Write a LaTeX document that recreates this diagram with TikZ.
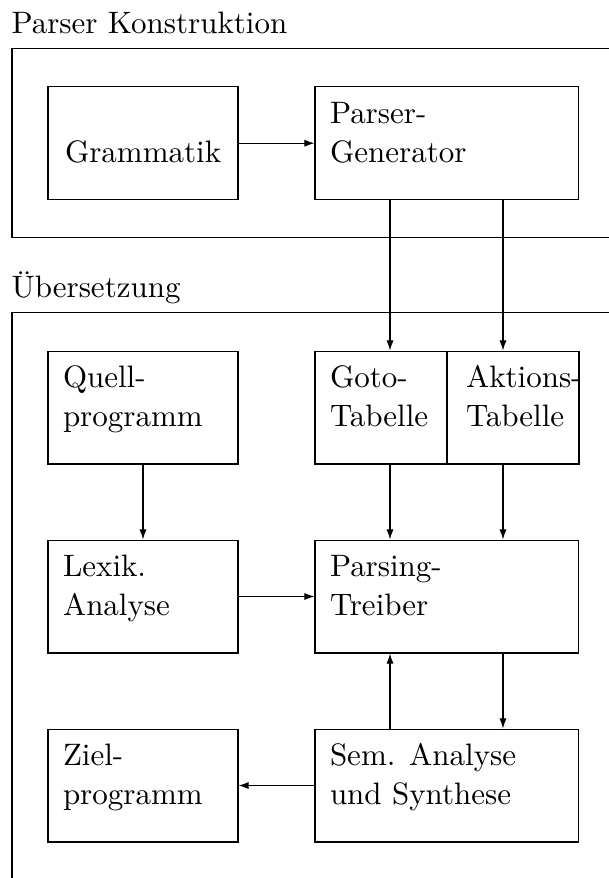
\documentclass[tikz,border=0pt]{standalone}
\usetikzlibrary{arrows.meta,calc}
\begin{document}
\begin{tikzpicture}[x=0.3226pt,y=-0.3226pt,
  line width=0.33pt,
  frame/.style={draw},
  boxs/.style={draw,rectangle,inner sep=0pt,minimum height=36.45pt},
  wbox/.style={boxs,minimum width=61.29pt},
  lbox/.style={boxs,minimum width=85.16pt},
  hbox/.style={boxs,minimum width=42.58pt},
  txt/.style={anchor=base west,inner sep=0pt,align=left,font=\fontsize{10}{12.6}\selectfont},
  ttl/.style={anchor=base west,inner sep=0pt,font=\fontsize{10}{12.6}\selectfont},
  arr/.style={-{Latex[length=3.3pt,width=2.3pt]}}]
\useasboundingbox (0,0) rectangle (609,878);
\clip (0,0) rectangle (609,878);
% titles
\node[ttl] (t1) at (11,33.3) {Parser Konstruktion};
\node[ttl] (t2) at (11,297.7) {Übersetzung};
% frames
\draw[frame] (640,48.7) -- (12,48.7) -- (12,237.5) -- (640,237.5);
\draw[frame] (640,312) -- (12,312) -- (12,900);
% boxes
\node[wbox] (gram) at (143,143.2) {};
\node[lbox] (pgen) at (447,143.2) {};
\node[wbox] (quell) at (143,407.5) {};
\node[hbox] (goto) at (381,407.5) {};
\node[hbox] (akt) at (513,407.5) {};
\node[wbox] (lex) at (143,596.5) {};
\node[lbox] (ptr) at (447,596.5) {};
\node[wbox] (ziel) at (143,785.5) {};
\node[lbox] (sem) at (447,785.5) {};
% texts
\node[txt] (tgram) at ([shift={(17,76)}]gram.north west) {Grammatik};
\node[txt] (tpgen) at ([shift={(15,76)}]pgen.north west) {Parser-\\Generator};
\node[txt] (tquell) at ([shift={(15,76)}]quell.north west) {Quell-\\programm};
\node[txt] (tgoto) at ([shift={(15,76)}]goto.north west) {Goto-\\Tabelle};
\node[txt] (takt) at ([shift={(19,76)}]akt.north west) {Aktions-\\Tabelle};
\node[txt] (tlex) at ([shift={(15,76)}]lex.north west) {Lexik.\\Analyse};
\node[txt] (tptr) at ([shift={(15,76)}]ptr.north west) {Parsing-\\Treiber};
\node[txt] (tziel) at ([shift={(15,76)}]ziel.north west) {Ziel-\\programm};
\node[txt] (tsem) at ([shift={(15,76)}]sem.north west) {Sem. Analyse\\und Synthese};
% connectors
\coordinate (cL) at (390,0);
\coordinate (cR) at (503,0);
\draw[arr] (gram) -- (pgen);
\draw[arr] (pgen.south -| cL) -- (goto.north -| cL);
\draw[arr] (pgen.south -| cR) -- (akt.north -| cR);
\draw[arr] (goto.south -| cL) -- (ptr.north -| cL);
\draw[arr] (akt.south -| cR) -- (ptr.north -| cR);
\draw[arr] (quell) -- (lex);
\draw[arr] (lex) -- (ptr);
\draw[arr] (ptr.south -| cR) -- (sem.north -| cR);
\draw[arr] (sem.north -| cL) -- (ptr.south -| cL);
\draw[arr] (sem) -- (ziel);
\end{tikzpicture}
\end{document}
